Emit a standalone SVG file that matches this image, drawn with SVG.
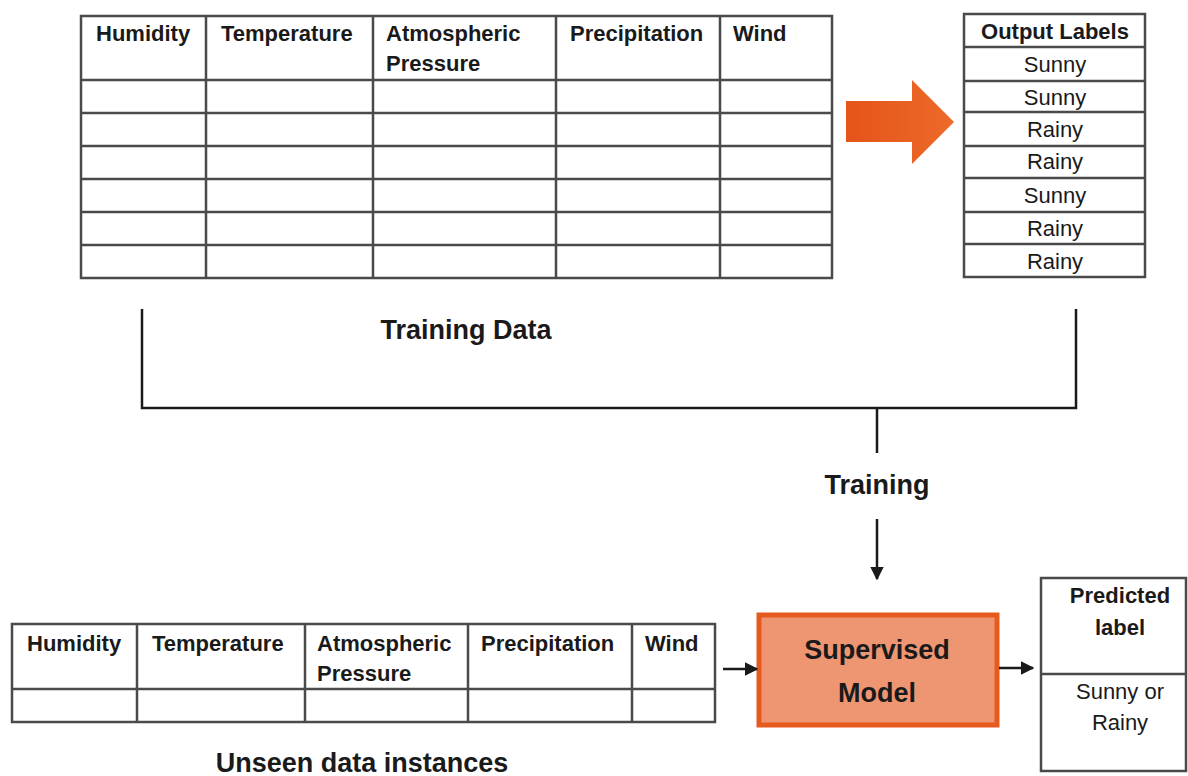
<svg xmlns="http://www.w3.org/2000/svg" width="1188" height="776" viewBox="0 0 1188 776">
<style>
.grid{fill:none;stroke:#4a4a4a;stroke-width:2.5}
.hd{font-family:"Liberation Sans",Arial,sans-serif;font-weight:bold;font-size:22px;fill:#1a1a1a}
.rg{font-family:"Liberation Sans",Arial,sans-serif;font-size:22px;fill:#1a1a1a}
.big{font-family:"Liberation Sans",Arial,sans-serif;font-weight:bold;font-size:27px;fill:#1a1a1a}
.ln{fill:none;stroke:#1a1a1a;stroke-width:2.5}
</style>
<defs>
<marker id="ah" viewBox="0 0 10 10" refX="9" refY="5" markerWidth="5.5" markerHeight="5.5" orient="auto" markerUnits="strokeWidth">
<path d="M0,0 L10,5 L0,10 z" fill="#1a1a1a"/>
</marker>
<linearGradient id="og" x1="0" y1="0" x2="1" y2="0">
<stop offset="0" stop-color="#E5541A"/>
<stop offset="1" stop-color="#EC6A2A"/>
</linearGradient>
</defs>
<rect width="1188" height="776" fill="#ffffff"/>

<g id="training-table">
<rect class="grid" x="81" y="16" width="751" height="262"/>
<path class="grid" d="M206,16V278 M373,16V278 M556,16V278 M720,16V278 M81,80H832 M81,113H832 M81,146H832 M81,179H832 M81,212H832 M81,245H832"/>
<text class="hd" x="96" y="41">Humidity</text>
<text class="hd" x="221" y="41">Temperature</text>
<text class="hd" x="386" y="41">Atmospheric</text>
<text class="hd" x="386" y="71">Pressure</text>
<text class="hd" x="570" y="41">Precipitation</text>
<text class="hd" x="733" y="41">Wind</text>
</g>

<g id="orange-arrow">
<path d="M846,101 H912 V80 L954,122 L912,164 V142 H846 Z" fill="url(#og)"/>
</g>

<g id="output-labels">
<rect class="grid" x="964" y="14" width="181" height="263"/>
<path class="grid" d="M964,47H1145 M964,81H1145 M964,112H1145 M964,146H1145 M964,178H1145 M964,212H1145 M964,244H1145"/>
<text class="hd" x="1055" y="39" text-anchor="middle" font-size="20">Output Labels</text>
<text class="rg" x="1055" y="72" text-anchor="middle">Sunny</text>
<text class="rg" x="1055" y="105" text-anchor="middle">Sunny</text>
<text class="rg" x="1055" y="137" text-anchor="middle">Rainy</text>
<text class="rg" x="1055" y="169" text-anchor="middle">Rainy</text>
<text class="rg" x="1055" y="203" text-anchor="middle">Sunny</text>
<text class="rg" x="1055" y="236" text-anchor="middle">Rainy</text>
<text class="rg" x="1055" y="269" text-anchor="middle">Rainy</text>
</g>

<g id="training-data-label">
<text class="big" x="466" y="339" text-anchor="middle">Training Data</text>
</g>

<g id="training-label">
<text class="big" x="877" y="494" text-anchor="middle">Training</text>
</g>

<g id="unseen-table">
<rect class="grid" x="12" y="624" width="703" height="98"/>
<path class="grid" d="M137,624V722 M305,624V722 M468,624V722 M632,624V722 M12,689H715"/>
<text class="hd" x="27" y="651">Humidity</text>
<text class="hd" x="152" y="651">Temperature</text>
<text class="hd" x="317" y="651">Atmospheric</text>
<text class="hd" x="317" y="681">Pressure</text>
<text class="hd" x="481" y="651">Precipitation</text>
<text class="hd" x="645" y="651">Wind</text>
</g>

<g id="unseen-label">
<text class="big" x="362" y="772" text-anchor="middle">Unseen data instances</text>
</g>

<g id="supervised-model">
<rect x="759" y="615" width="238" height="110" fill="#EE9572" stroke="#E65A1E" stroke-width="5"/>
<text class="big" x="877" y="659" text-anchor="middle">Supervised</text>
<text class="big" x="877" y="702" text-anchor="middle">Model</text>
</g>

<g id="predicted-label">
<rect class="grid" x="1041" y="578" width="145" height="193"/>
<path class="grid" d="M1041,674H1186"/>
<text class="hd" x="1120" y="603" text-anchor="middle">Predicted</text>
<text class="hd" x="1120" y="635" text-anchor="middle">label</text>
<text class="rg" x="1120" y="699" text-anchor="middle">Sunny or</text>
<text class="rg" x="1120" y="730" text-anchor="middle">Rainy</text>
</g>

<g id="connectors">
<path class="ln" d="M142,309 V408 H1076 V309"/>
<path class="ln" d="M877,408 V453"/>
<path class="ln" d="M877,519 V579" marker-end="url(#ah)"/>
<path class="ln" d="M723,669 H757" marker-end="url(#ah)"/>
<path class="ln" d="M999,668 H1033" marker-end="url(#ah)"/>
</g>
</svg>
